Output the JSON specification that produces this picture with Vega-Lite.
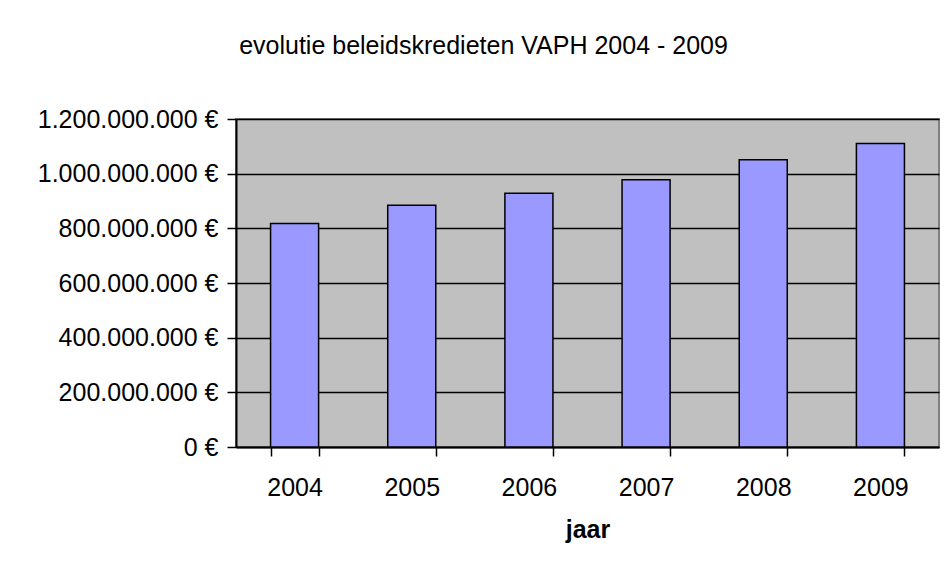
{
  "$schema": "https://vega.github.io/schema/vega-lite/v6.json",
  "autosize": {"type": "none"},
  "width": 703,
  "height": 328,
  "padding": {"left": 236, "top": 119, "right": 9, "bottom": 116},
  "background": "white",
  "title": {
    "text": "evolutie beleidskredieten VAPH 2004 - 2009",
    "anchor": "middle",
    "frame": "group",
    "dx": -104,
    "offset": 28,
    "baseline": "alphabetic",
    "font": "Liberation Sans",
    "fontSize": 25,
    "fontWeight": "normal",
    "color": "black"
  },
  "data": {
    "values": [
      {"jaar": "2004", "krediet": 818000000},
      {"jaar": "2005", "krediet": 884000000},
      {"jaar": "2006", "krediet": 928000000},
      {"jaar": "2007", "krediet": 978000000},
      {"jaar": "2008", "krediet": 1051000000},
      {"jaar": "2009", "krediet": 1110000000}
    ]
  },
  "mark": {"type": "bar", "fill": "#9999FF", "stroke": "black", "strokeWidth": 1.5},
  "encoding": {
    "x": {
      "field": "jaar",
      "type": "ordinal",
      "title": "jaar",
      "scale": {"paddingInner": 0.59, "paddingOuter": 0.295},
      "axis": {
        "labelAngle": 0,
        "tickBand": "extent",
        "tickSize": 9,
        "tickWidth": 1.5,
        "tickColor": "black",
        "domainColor": "black",
        "domainWidth": 2,
        "labelPadding": 19,
        "labelFontSize": 25,
        "labelFont": "Liberation Sans",
        "labelColor": "black",
        "titleFont": "Liberation Sans",
        "titleFontSize": 25,
        "titleFontWeight": "bold",
        "titleColor": "black",
        "titlePadding": 17
      }
    },
    "y": {
      "field": "krediet",
      "type": "quantitative",
      "title": null,
      "scale": {"domain": [0, 1200000000]},
      "axis": {
        "values": [0, 200000000, 400000000, 600000000, 800000000, 1000000000, 1200000000],
        "labelExpr": "replace(format(datum.value, ','), /,/g, '.') + ' €'",
        "labelLimit": 400,
        "grid": true,
        "gridColor": "black",
        "gridWidth": 1.5,
        "gridOpacity": 1,
        "tickSize": 9,
        "tickWidth": 1.5,
        "tickColor": "black",
        "domainColor": "black",
        "domainWidth": 2,
        "labelPadding": 9,
        "labelFontSize": 25,
        "labelFont": "Liberation Sans",
        "labelColor": "black"
      }
    }
  },
  "config": {
    "view": {"fill": "#C0C0C0", "stroke": "#808080", "strokeWidth": 2}
  }
}
